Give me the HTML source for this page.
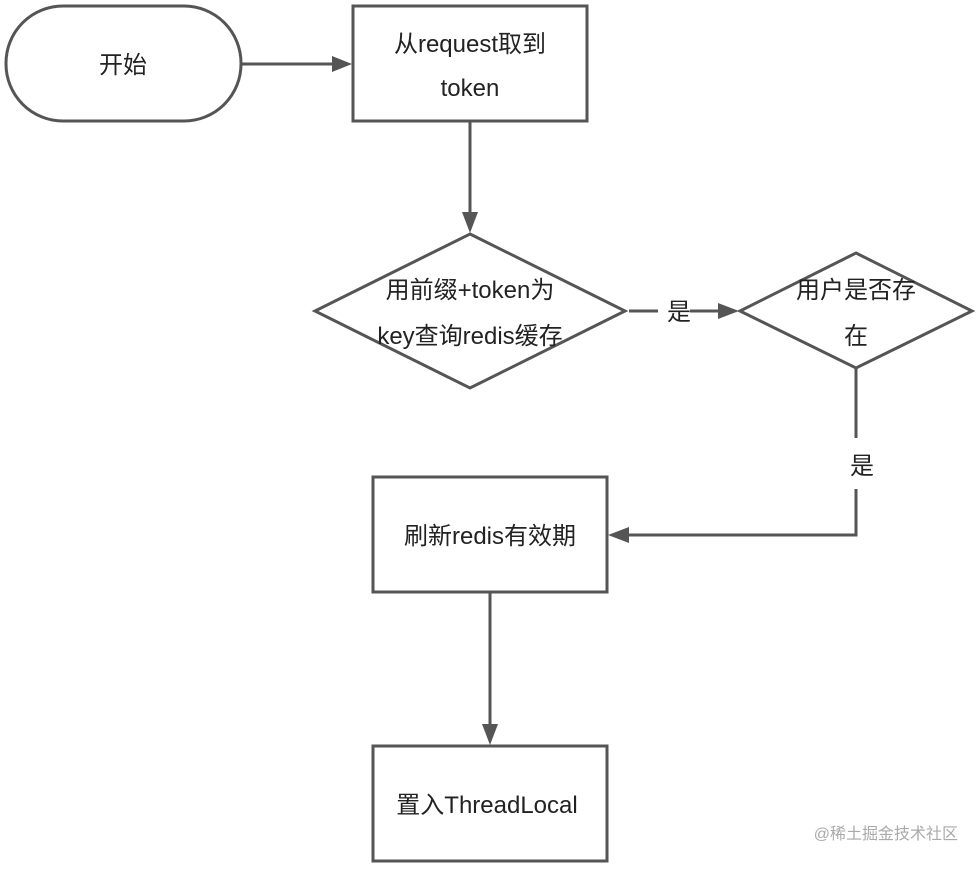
<!DOCTYPE html>
<html><head><meta charset="utf-8"><style>
html,body{margin:0;padding:0;background:#fff;}
svg text{font-family:"Liberation Sans","Noto Sans CJK SC",sans-serif;font-size:24px;fill:#222;}
</style></head><body>
<svg width="980" height="868" viewBox="0 0 980 868" xmlns="http://www.w3.org/2000/svg">
<g fill="none" stroke="#555" stroke-width="3">
<rect x="6" y="6" width="235" height="115" rx="57" ry="57" fill="#fff"/>
<rect x="353" y="6" width="234" height="115" fill="#fff"/>
<polygon points="470,234 625,311 470,388 315,311" fill="#fff"/>
<polygon points="856,253 972,311 856,368 740,311" fill="#fff"/>
<rect x="373" y="477" width="234" height="115" fill="#fff"/>
<rect x="373" y="746" width="234" height="115" fill="#fff"/>
<line x1="241" y1="64" x2="335" y2="64"/>
<line x1="470" y1="121" x2="470" y2="215"/>
<line x1="629" y1="311" x2="658" y2="311"/>
<line x1="690" y1="311" x2="722" y2="311"/>
<line x1="856" y1="368" x2="856" y2="438"/>
<polyline points="856,489 856,535 626,535"/>
<line x1="490" y1="592" x2="490" y2="727"/>
</g>
<g fill="#555">
<polygon points="352,64 332,56 332,72"/>
<polygon points="470,233 462,212 478,212"/>
<polygon points="739,311 718,303 718,319"/>
<polygon points="608,535 629,527 629,543"/>
<polygon points="490,745 482,724 498,724"/>
</g>
<text x="123" y="73" text-anchor="middle">开始</text>
<text x="470" y="52" text-anchor="middle">从request取到</text>
<text x="470" y="96" text-anchor="middle">token</text>
<text x="470" y="298" text-anchor="middle">用前缀+token为</text>
<text x="470" y="344" text-anchor="middle">key查询redis缓存</text>
<text x="679" y="320" text-anchor="middle">是</text>
<text x="856" y="298" text-anchor="middle">用户是否存</text>
<text x="856" y="344" text-anchor="middle">在</text>
<text x="862" y="474" text-anchor="middle">是</text>
<text x="490" y="544" text-anchor="middle">刷新redis有效期</text>
<text x="487" y="813" text-anchor="middle">置入ThreadLocal</text>
<text x="958" y="839" text-anchor="end" style="font-size:16px;fill:#aaa">@稀土掘金技术社区</text>
</svg>
</body></html>
